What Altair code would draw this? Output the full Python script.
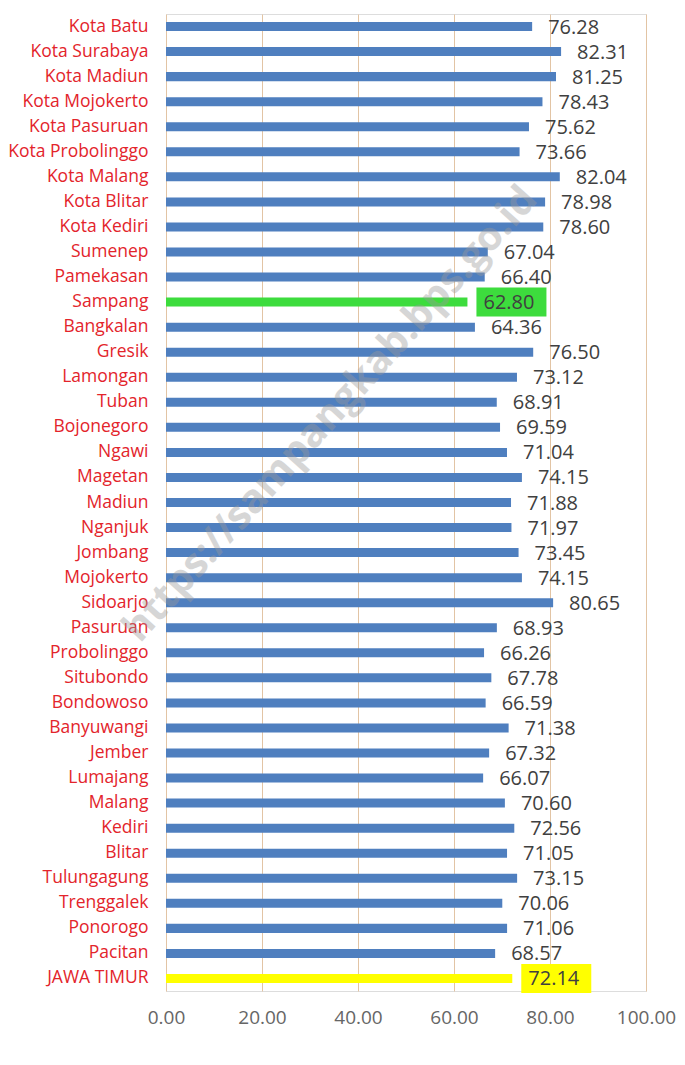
import altair as alt
import pandas as pd

categories = [
    "Kota Batu", "Kota Surabaya", "Kota Madiun", "Kota Mojokerto", "Kota Pasuruan",
    "Kota Probolinggo", "Kota Malang", "Kota Blitar", "Kota Kediri", "Sumenep",
    "Pamekasan", "Sampang", "Bangkalan", "Gresik", "Lamongan", "Tuban",
    "Bojonegoro", "Ngawi", "Magetan", "Madiun", "Nganjuk", "Jombang",
    "Mojokerto", "Sidoarjo", "Pasuruan", "Probolinggo", "Situbondo",
    "Bondowoso", "Banyuwangi", "Jember", "Lumajang", "Malang", "Kediri",
    "Blitar", "Tulungagung", "Trenggalek", "Ponorogo", "Pacitan", "JAWA TIMUR",
]
values = [
    76.28, 82.31, 81.25, 78.43, 75.62, 73.66, 82.04, 78.98, 78.60, 67.04,
    66.40, 62.80, 64.36, 76.50, 73.12, 68.91, 69.59, 71.04, 74.15, 71.88,
    71.97, 73.45, 74.15, 80.65, 68.93, 66.26, 67.78, 66.59, 71.38, 67.32,
    66.07, 70.60, 72.56, 71.05, 73.15, 70.06, 71.06, 68.57, 72.14,
]
highlight_names = ["Sampang", "JAWA TIMUR"]
highlight_colors = ["#3ddc3d", "#ffff00"]
x_ticks = [0, 20, 40, 60, 80, 100]
watermark = "https://sampangkab.bps.go.id"

BLUE = "#4f7fbf"
color_map = {n: c for n, c in zip(highlight_names, highlight_colors)}
df = pd.DataFrame({
    "name": categories,
    "value": values,
    "color": [color_map.get(n, BLUE) for n in categories],
    "label": [f"{v:.2f}" for v in values],
})
hl = df[df["name"].isin(highlight_names)]

y_enc = alt.Y(
    "name:N", sort=categories, title=None,
    scale=alt.Scale(paddingInner=0.64, paddingOuter=0.32),
    axis=alt.Axis(
        domain=False, ticks=False, grid=False, labelPadding=18,
        labelColor="#e3242b", labelFont="Open Sans", labelFontSize=17.5,
        labelLimit=300,
    ),
)
x_enc = alt.X(
    "value:Q", title=None,
    scale=alt.Scale(domain=[0, 100], nice=False, zero=True),
    axis=alt.Axis(
        values=x_ticks, format=".2f", domain=False, ticks=False, grid=True,
        gridColor="#e2c4a4", gridWidth=1, labelPadding=17,
        labelFlush=False, labelOverlap=False, labelBound=False,
        labelColor="#666666", labelFont="Open Sans", labelFontSize=19,
    ),
)

bars = alt.Chart(df).mark_bar().encode(
    x=x_enc, y=y_enc,
    color=alt.Color("color:N", scale=None),
)

boxes = alt.Chart(hl).mark_bar(xOffset=9, x2Offset=79, size=29).encode(
    x="value:Q", x2="value:Q",
    y=alt.Y("name:N", sort=categories),
    color=alt.Color("color:N", scale=None),
)

labels = alt.Chart(df).mark_text(
    align="left", baseline="middle", dx=16, dy=1,
    font="Open Sans", fontSize=20, color="#404040",
).encode(
    x="value:Q", y=alt.Y("name:N", sort=categories), text="label:N",
)

wm = alt.Chart(pd.DataFrame({"t": [watermark]})).mark_text(
    angle=312, font="Open Sans", fontWeight="bold", fontSize=40,
    color="#9a9a9a", opacity=0.4, align="center", baseline="middle",
    yOffset=12,
).encode(
    x=alt.datum(34.3), y=alt.datum("Tuban"), text="t:N",
)

chart = alt.layer(bars, boxes, labels, wm).properties(
    width=480, height=977,
    autosize=alt.AutoSizeParams(type="none"),
    padding={"left": 158, "top": 6, "right": 31, "bottom": 50},
).configure_view(stroke=None).configure(background="white")

chart.save("out.html", embed_options={"renderer": "svg", "actions": False})
